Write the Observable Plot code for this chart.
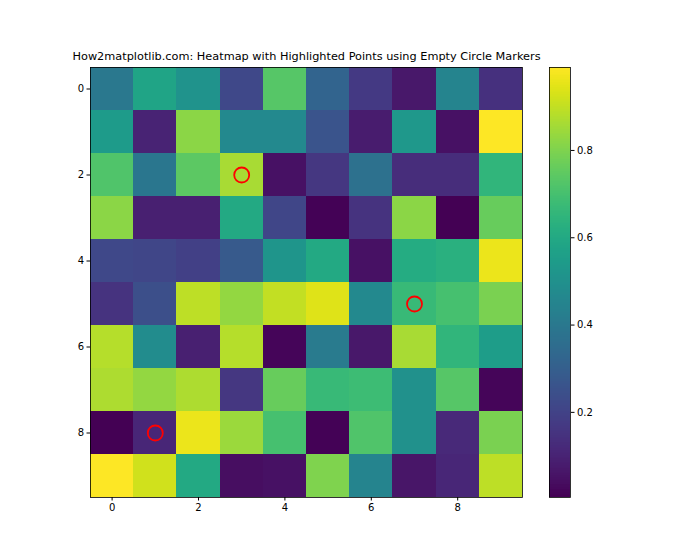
<!DOCTYPE html>
<html><head><meta charset="utf-8">
<script src="https://cdn.jsdelivr.net/npm/d3@7"></script>
<script src="https://cdn.jsdelivr.net/npm/@observablehq/plot@0.6"></script>
<style>
body{margin:0;background:#fff}
#wrap{position:relative;width:700px;height:560px}
#wrap svg{position:absolute;left:0;top:0}
</style>
</head><body><div id="wrap"></div>
<script>
const title = "How2matplotlib.com: Heatmap with Highlighted Points using Empty Circle Markers";
const xTicks = [0, 2, 4, 6, 8];
const yTicks = [0, 2, 4, 6, 8];
const colorbarTicks = [0.2, 0.4, 0.6, 0.8];
const grid = [
  [0.40, 0.58, 0.51, 0.22, 0.73, 0.32, 0.17, 0.07, 0.45, 0.14],
  [0.54, 0.10, 0.82, 0.47, 0.47, 0.26, 0.08, 0.53, 0.05, 0.99],
  [0.72, 0.39, 0.74, 0.86, 0.05, 0.16, 0.37, 0.13, 0.13, 0.65],
  [0.82, 0.09, 0.09, 0.60, 0.21, 0.01, 0.15, 0.82, 0.005, 0.76],
  [0.22, 0.21, 0.19, 0.28, 0.52, 0.60, 0.05, 0.61, 0.63, 0.96],
  [0.15, 0.24, 0.89, 0.83, 0.90, 0.94, 0.47, 0.67, 0.70, 0.79],
  [0.88, 0.48, 0.09, 0.88, 0.02, 0.41, 0.07, 0.86, 0.65, 0.55],
  [0.87, 0.83, 0.87, 0.16, 0.76, 0.67, 0.68, 0.50, 0.73, 0.02],
  [0.005, 0.11, 0.96, 0.84, 0.70, 0.01, 0.72, 0.50, 0.12, 0.79],
  [0.99, 0.92, 0.60, 0.04, 0.05, 0.80, 0.45, 0.06, 0.11, 0.89]
];
const highlightX = [3, 7, 1];
const highlightY = [2, 5, 8];

const cells = [];
grid.forEach((row, r) => row.forEach((v, c) => cells.push({col: c, row: r, value: v})));
const highlights = highlightX.map((x, i) => ({x, y: highlightY[i]}));
const vmin = d3.min(cells, d => d.value), vmax = d3.max(cells, d => d.value);
const font = "DejaVu Sans";
const style = {fontFamily: font, fontSize: "10px", background: "transparent", color: "#000"};
const colorScale = {type: "linear", scheme: "viridis", domain: [vmin, vmax]};

const main = Plot.plot({
  width: 700, height: 560,
  marginLeft: 90, marginRight: 178, marginTop: 67, marginBottom: 63,
  style,
  x: {domain: [-0.5, 9.5], ticks: xTicks, tickSize: 3.5, tickPadding: 3, label: null, tickFormat: d => d},
  y: {domain: [-0.5, 9.5], reverse: true, ticks: yTicks, tickSize: 3.5, tickPadding: 3, label: null, tickFormat: d => d},
  color: colorScale,
  marks: [
    Plot.rect(cells, {x1: d => d.col - 0.5, x2: d => d.col + 0.5, y1: d => d.row - 0.5, y2: d => d.row + 0.5, fill: "value", shapeRendering: "crispEdges"}),
    Plot.frame({stroke: "#000", strokeWidth: 0.8}),
    Plot.dot(highlights, {x: "x", y: "y", r: 7.5, stroke: "red", fill: "none", strokeWidth: 1.8}),
    Plot.text([title], {frameAnchor: "top", dy: -8, lineAnchor: "bottom", fontSize: 11.3, fill: "#000"})
  ]
});

const steps = 256;
const stops = d3.range(steps).map(i => vmin + (vmax - vmin) * i / steps);
const stepH = (vmax - vmin) / steps;
const bar = Plot.plot({
  width: 700, height: 560,
  marginLeft: 549, marginRight: 130, marginTop: 67, marginBottom: 63,
  style,
  x: {domain: [0, 1], axis: null},
  y: {domain: [vmin, vmax], ticks: colorbarTicks, axis: "right", tickSize: 3.5, tickPadding: 3, label: null, tickFormat: ".1f"},
  color: colorScale,
  marks: [
    Plot.rect(stops, {x1: 0, x2: 1, y1: d => d, y2: d => d + stepH, fill: d => d, shapeRendering: "crispEdges"}),
    Plot.frame({stroke: "#000", strokeWidth: 0.8})
  ]
});
const wrap = document.getElementById("wrap");
wrap.appendChild(main);
wrap.appendChild(bar);
</script>
</body></html>
